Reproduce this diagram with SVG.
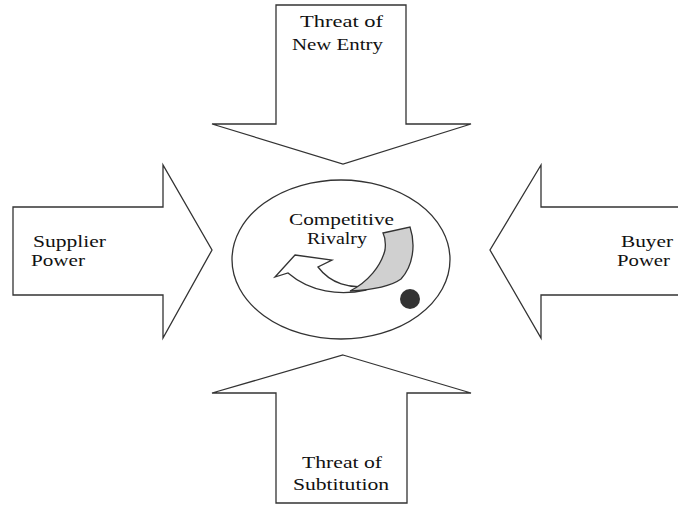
<svg xmlns="http://www.w3.org/2000/svg" width="678" height="514" viewBox="0 0 678 514">
<style>
.shape{fill:#fff;stroke:#333;stroke-width:1.3;stroke-linejoin:miter}
.lbl{font-family:"Liberation Serif","Times New Roman",serif;font-size:17px;fill:#111}
</style>
<rect width="678" height="514" fill="#fff"/>
<g id="connectors">
<g id="top-arrow"><polygon class="shape" points="276,5 406,5 406,124 471,124 343,164 212,124 276,124"/></g>
<g id="bottom-arrow"><polygon class="shape" points="343,355 471,393 407,393 407,503 276,503 276,393 212,393"/></g>
<g id="left-arrow"><polygon class="shape" points="13,207 163,207 163,165 212,250 163,338 163,295 13,295"/></g>
<g id="right-arrow"><polygon class="shape" points="690,207 541,207 541,165 490,250 541,338 541,295 690,295"/></g>
</g>
<g id="node-new-entry">
<text class="lbl" x="300" y="27" textLength="83" lengthAdjust="spacingAndGlyphs">Threat of</text>
<text class="lbl" x="292" y="50" textLength="91" lengthAdjust="spacingAndGlyphs">New Entry</text>
</g>
<g id="node-substitution">
<text class="lbl" x="302" y="468" textLength="80" lengthAdjust="spacingAndGlyphs">Threat of</text>
<text class="lbl" x="293" y="490" textLength="96" lengthAdjust="spacingAndGlyphs">Subtitution</text>
</g>
<g id="node-supplier">
<text class="lbl" x="33" y="247" textLength="73" lengthAdjust="spacingAndGlyphs">Supplier</text>
<text class="lbl" x="31" y="266" textLength="54" lengthAdjust="spacingAndGlyphs">Power</text>
</g>
<g id="node-buyer">
<text class="lbl" x="621" y="247" textLength="52" lengthAdjust="spacingAndGlyphs">Buyer</text>
<text class="lbl" x="617" y="266" textLength="53" lengthAdjust="spacingAndGlyphs">Power</text>
</g>
<g id="node-rivalry">
<ellipse class="shape" cx="341" cy="259.5" rx="109" ry="79.5"/>
<text class="lbl" x="289" y="225" textLength="105" lengthAdjust="spacingAndGlyphs">Competitive</text>
<text class="lbl" x="307" y="244" textLength="60" lengthAdjust="spacingAndGlyphs">Rivalry</text>
<path class="shape" d="M295,255 L332,260 L318,267 C330,283 350,290 372,285 L366,290 C340,296 310,292 288,273 L275,277 Z"/>
<path d="M383,233 L410,227 C416,245 413,266 401,279 C390,287 370,290 350,291 C368,282 381,266 385,250 C386,242 385,237 383,233 Z" fill="#d0d0d0" stroke="#333" stroke-width="1.3"/>
<circle cx="410" cy="299" r="10" fill="#333"/>
</g>
</svg>
